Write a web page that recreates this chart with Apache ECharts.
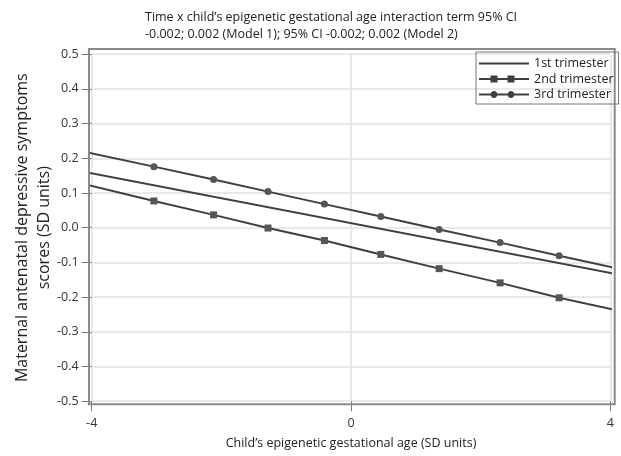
<!DOCTYPE html>
<html>
<head>
<meta charset="utf-8">
<script src="https://cdn.jsdelivr.net/npm/echarts@6/dist/echarts.min.js"></script>
<style>
  html, body { margin: 0; padding: 0; background: #fff; }
  #chart { width: 621px; height: 456px; }
</style>
</head>
<body>
<div id="chart"></div>
<script>
// marker positions along x (SD units)
const markerX = [-3.04, -2.12, -1.28, -0.41, 0.46, 1.36, 2.30, 3.21];
// line end points (lines run to the frame edges)
const lineEnds = [-4.04, 4.07];

const first = [0.158, -0.133];          // 1st trimester, ends only
const secondEnds = [0.122, -0.237];
const second = [0.077, 0.037, -0.001, -0.037, -0.077, -0.118, -0.159, -0.202];
const thirdEnds = [0.216, -0.116];
const third = [0.176, 0.139, 0.104, 0.068, 0.032, -0.005, -0.043, -0.081];

const yTicks = ['0.5', '0.4', '0.3', '0.2', '0.1', '0.0', '-0.1', '-0.2', '-0.3', '-0.4', '-0.5'];

function withEnds(ends, marks) {
  const pts = [{ value: [lineEnds[0], ends[0]], symbol: 'none' }];
  markerX.forEach((x, i) => pts.push([x, marks[i]]));
  pts.push({ value: [lineEnds[1], ends[1]], symbol: 'none' });
  return pts;
}

// legend icons drawn on a 50x8 box: line with two markers
const lineBar = 'M0,3.1L50,3.1L50,4.9L0,4.9Z';
const sq = x => 'M' + (x - 3.5) + ',0.5L' + (x + 3.5) + ',0.5L' + (x + 3.5) + ',7.5L' + (x - 3.5) + ',7.5Z';
const dot = x => {
  let p = '';
  for (let k = 0; k < 16; k++) {
    const a = k / 16 * Math.PI * 2;
    p += (k ? 'L' : 'M') + (x + 3.4 * Math.cos(a)).toFixed(2) + ',' + (4 + 3.4 * Math.sin(a)).toFixed(2);
  }
  return p + 'Z';
};
const iconPlain = 'path://' + lineBar;
const iconSquare = 'path://' + lineBar + sq(15) + sq(32);
const iconCircle = 'path://' + lineBar + dot(15) + dot(32);

const font = '"Open Sans", "DejaVu Sans", sans-serif';
const lineColor = '#3f3f3f';

const chart = echarts.init(document.getElementById('chart'));
chart.setOption({
  animation: false,
  textStyle: { fontFamily: font },
  title: {
    text: 'Time x child\u2019s epigenetic gestational age interaction term 95% CI\n-0.002; 0.002 (Model 1); 95% CI -0.002; 0.002 (Model 2)',
    left: 140,
    top: 4,
    textStyle: { fontSize: 12.5, fontWeight: 'normal', color: '#222', lineHeight: 17, fontFamily: font }
  },
  grid: [
    { left: 91.7, right: 10.7, top: 54.2, bottom: 54.8, outerBoundsMode: 'none', containLabel: false },
    // outer frame, a little larger than the data area
    { left: 89, right: 6.3, top: 49, bottom: 51.7, outerBoundsMode: 'none', containLabel: false,
      show: true, borderColor: '#8a8a8a', borderWidth: 2, backgroundColor: 'transparent', z: 1 }
  ],
  legend: {
    orient: 'vertical',
    left: 476,
    top: 52,
    borderColor: '#777',
    borderWidth: 1,
    borderRadius: 0,
    padding: [5, 5, 3, 3],
    itemWidth: 50,
    itemHeight: 8,
    itemGap: 2.5,
    textStyle: { fontSize: 12.5, color: '#222', fontFamily: font },
    itemStyle: { color: lineColor, borderWidth: 0 },
    data: [
      { name: '1st trimester', icon: iconPlain },
      { name: '2nd trimester', icon: iconSquare },
      { name: '3rd trimester', icon: iconCircle }
    ]
  },
  xAxis: [{
    type: 'value',
    min: -4,
    max: 4,
    interval: 4,
    name: 'Child\u2019s epigenetic gestational age (SD units)',
    nameLocation: 'middle',
    nameGap: 36,
    nameMoveOverlap: false,
    nameTextStyle: { fontSize: 12.5, color: '#222' },
    axisLine: { show: false, onZero: false },
    axisTick: { show: true, inside: false, length: 10, lineStyle: { color: '#777' } },
    axisLabel: { fontSize: 12.5, color: '#333', margin: 16 },
    splitLine: { show: true, lineStyle: { color: '#e2e2e2', width: 1.5 } }
  }, {
    type: 'value', gridIndex: 1, show: false, min: 0, max: 1, splitLine: { show: false }
  }],
  yAxis: [{
    type: 'value',
    min: -0.5,
    max: 0.5,
    interval: 0.1,
    name: 'Maternal antenatal depressive symptoms\nscores (SD units)',
    nameLocation: 'middle',
    nameGap: 36,
    nameMoveOverlap: false,
    nameTextStyle: { fontSize: 16, color: '#222', lineHeight: 22 },
    axisLine: { show: false, onZero: false },
    axisTick: { show: true, inside: false, length: 10, lineStyle: { color: '#777' } },
    axisLabel: {
      fontSize: 12.5, color: '#333', margin: 13,
      formatter: v => yTicks[Math.round((0.5 - v) * 10)]
    },
    splitLine: { show: true, lineStyle: { color: '#e2e2e2', width: 1.5 } }
  }, {
    type: 'value', gridIndex: 1, show: false, min: 0, max: 1, splitLine: { show: false }
  }],
  series: [
    {
      name: '1st trimester',
      type: 'line',
      clip: false,
      symbol: 'none',
      z: 5,
      data: [[lineEnds[0], first[0]], [lineEnds[1], first[1]]],
      lineStyle: { color: lineColor, width: 2 },
      itemStyle: { color: lineColor }
    },
    {
      name: '2nd trimester',
      type: 'line',
      clip: false,
      symbol: 'rect',
      symbolSize: 7,
      z: 5,
      data: withEnds(secondEnds, second),
      lineStyle: { color: lineColor, width: 2 },
      itemStyle: { color: '#555' }
    },
    {
      name: '3rd trimester',
      type: 'line',
      clip: false,
      symbol: 'circle',
      symbolSize: 7,
      z: 5,
      data: withEnds(thirdEnds, third),
      lineStyle: { color: lineColor, width: 2 },
      itemStyle: { color: '#555' }
    }
  ]
});
</script>
</body>
</html>
